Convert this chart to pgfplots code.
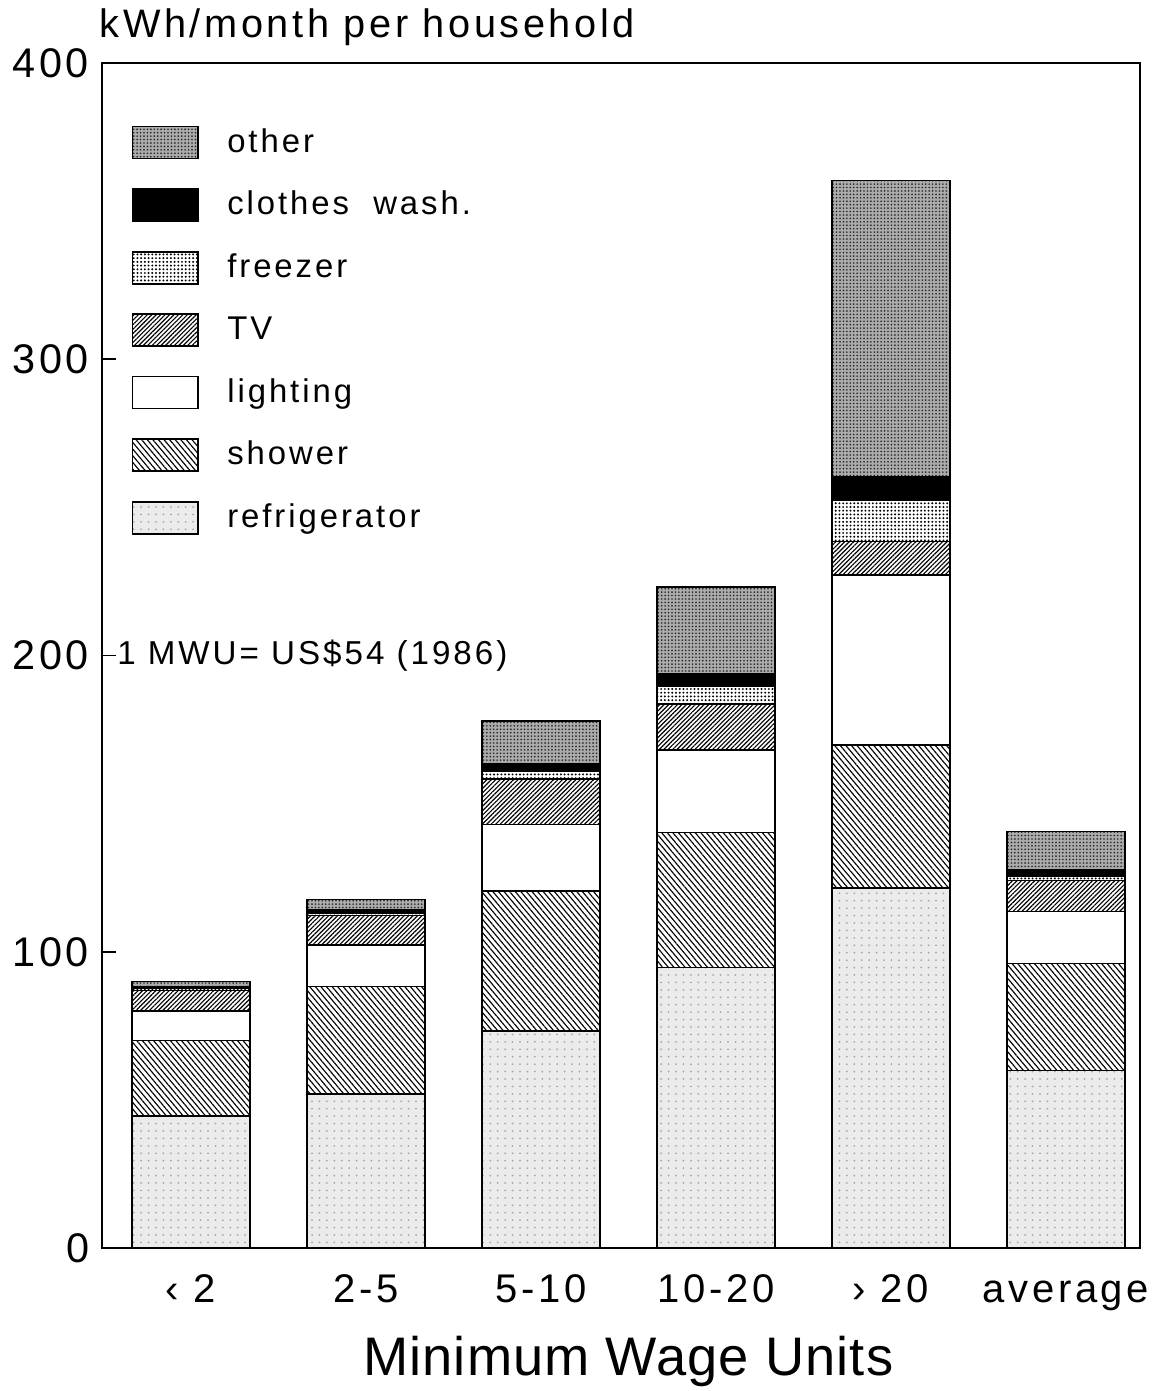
\documentclass[border=0pt]{standalone}
\usepackage{pgfplots}
\pgfplotsset{compat=1.18}
\usepackage{fontspec}
\setmainfont{Liberation Sans}[LetterSpace=9]
\usetikzlibrary{patterns.meta}
\begin{document}
\begin{tikzpicture}
\begin{axis}[
  scale only axis,
  width=363.3pt, height=414.75pt,
  ybar stacked,
  bar width=41.3pt,
  xmin=-0.509, xmax=5.423,
  ymin=0, ymax=400,
  xtick={0,1,2,3,4,5},
  xticklabels={‹ 2, 2-5, 5-10, 10-20, › 20, average},
  ytick={0,100,200,300,400},
  tick align=inside,
  xtick pos=bottom, ytick pos=left,
  major tick length=5pt,
  axis line style={line width=0.7pt},
  every tick/.style={line width=0.6pt, black},
  /pgf/number format/assume math mode=true,
  yticklabel style={font=\fontsize{14.5}{16}\selectfont, xshift=-1pt},
  xticklabel style={font=\fontsize{14}{16}\selectfont, anchor=base, yshift=-18.9pt},
  xlabel={\addfontfeature{LetterSpace=2}Minimum Wage Units},
  xlabel style={font=\fontsize{19}{22}\selectfont, anchor=base, at={(rel axis cs:0.507,0)}, yshift=-44.5pt},
  reverse legend,
  legend style={draw=none, fill=none, at={(rel axis cs:0.0197,0.955)}, anchor=north west,
    font=\fontsize{11.5}{13}\selectfont, row sep=8.15pt,
    legend cell align=left},
  legend image code/.code={\draw[#1, line width=0.5pt] (0pt,-5.6pt) rectangle (23pt,5.6pt); \path (31pt,0pt);},
  clip=false,
]
% refrigerator
\addplot[draw=black, line width=0.5pt, fill=gray!16, postaction={pattern={Dots[distance=2.6pt,radius=0.35pt]}, pattern color=gray!70}] coordinates {(0,44.5) (1,52) (2,73.2) (3,94.6) (4,121.5) (5,60)};
% shower
\addplot[draw=black, line width=0.5pt, fill=white, postaction={pattern={Lines[angle=-50,distance=1.5pt,line width=0.4pt]}}] coordinates {(0,25.5) (1,36.2) (2,47.3) (3,45.6) (4,48.3) (5,36)};
% lighting
\addplot[draw=black, line width=0.5pt, fill=white] coordinates {(0,10) (1,14.1) (2,22.5) (3,27.9) (4,57.4) (5,17.5)};
% TV
\addplot[draw=black, line width=0.5pt, fill=white, postaction={pattern={Lines[angle=45,distance=1.1pt,line width=0.4pt]}}] coordinates {(0,7) (1,9.9) (2,15.3) (3,15.5) (4,11.2) (5,10.6)};
% freezer
\addplot[draw=black, line width=0.5pt, fill=white, postaction={pattern={Dots[distance=1.3pt,radius=0.38pt]}}] coordinates {(0,0.5) (1,0.7) (2,2.5) (3,6.1) (4,14.1) (5,1.5)};
% clothes wash
\addplot[draw=black, line width=0.5pt, fill=black] coordinates {(0,0.7) (1,1.2) (2,2.8) (3,4.3) (4,7.9) (5,2)};
% other
\addplot[draw=black, line width=0.5pt, fill=gray!66, postaction={pattern={Dots[distance=1.2pt,radius=0.32pt]}, pattern color=black!85}] coordinates {(0,1.7) (1,3.6) (2,14.3) (3,29.1) (4,99.9) (5,13)};
\legend{refrigerator, shower, lighting, TV, freezer, clothes\ \ wash., other}
\node[anchor=west, font=\fontsize{11.6}{14}\selectfont, inner sep=0pt] at (axis cs:-0.425,200) {1 MWU= US\$54 (1986)};
\node[anchor=south west, font=\fontsize{13.9}{16}\selectfont, inner sep=0pt] at ([xshift=-1pt, yshift=6pt]rel axis cs:0,1) {kWh/month per household};
\coordinate (bl) at (rel axis cs:0,0);
\coordinate (tr) at (rel axis cs:1,1);
\end{axis}
\pgfresetboundingbox
\path[use as bounding box] ([shift={(-35.7pt,-50.05pt)}]bl) rectangle ([shift={(6.3pt,22.05pt)}]tr);
\end{tikzpicture}
\end{document}
